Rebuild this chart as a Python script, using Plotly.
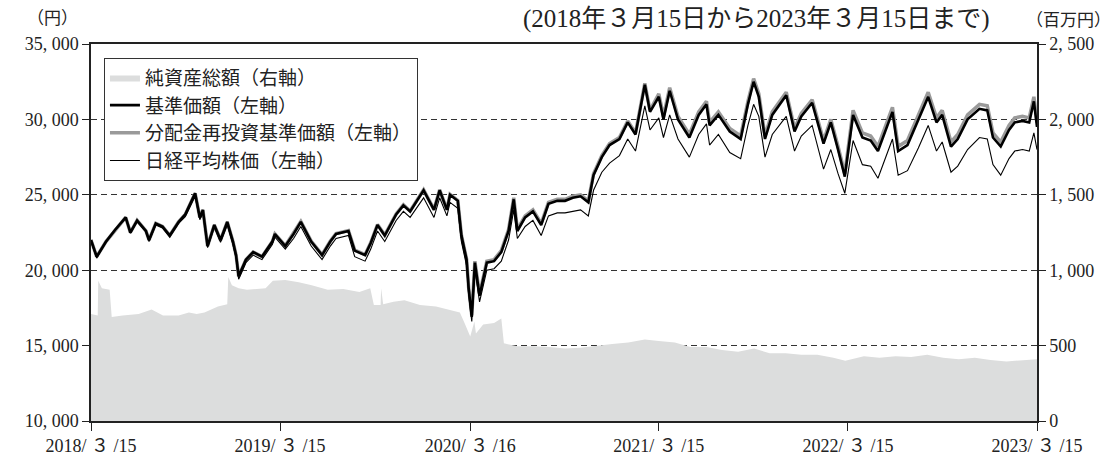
import plotly.graph_objects as go

# ---------------- data ----------------
dates = ["2018-03-15","2018-03-26","2018-04-13","2018-05-01","2018-05-21","2018-05-30","2018-06-12","2018-06-29",
         "2018-07-05","2018-07-18","2018-07-31","2018-08-14","2018-08-31","2018-09-13","2018-10-02","2018-10-11",
         "2018-10-17","2018-10-26","2018-11-08","2018-11-20","2018-12-03","2018-12-14","2018-12-20","2018-12-25",
         "2019-01-08","2019-01-22","2019-02-08","2019-02-28","2019-03-05","2019-03-25","2019-04-10","2019-04-24",
         "2019-05-14","2019-06-04","2019-06-20","2019-07-01","2019-07-25","2019-08-06","2019-08-26","2019-09-06",
         "2019-09-19","2019-10-03","2019-10-25","2019-11-08","2019-11-21","2019-12-17","2020-01-06","2020-01-17",
         "2020-01-31","2020-02-06","2020-02-21","2020-02-28","2020-03-09","2020-03-13","2020-03-19","2020-03-25",
         "2020-04-03","2020-04-17","2020-05-01","2020-05-15","2020-05-29","2020-06-08","2020-06-15","2020-06-30",
         "2020-07-15","2020-07-31","2020-08-14","2020-08-31","2020-09-15","2020-09-30","2020-10-15","2020-10-30",
         "2020-11-09","2020-11-25","2020-12-10","2020-12-29","2021-01-14","2021-01-29","2021-02-16","2021-02-26",
         "2021-03-15","2021-03-24","2021-04-05","2021-04-21","2021-05-13","2021-05-31","2021-06-15","2021-06-21",
         "2021-07-08","2021-07-30","2021-08-20","2021-09-03","2021-09-14","2021-09-24","2021-10-06","2021-10-20",
         "2021-11-16","2021-12-02","2021-12-15","2022-01-05","2022-01-27","2022-02-10","2022-02-24","2022-03-09",
         "2022-03-25","2022-04-12","2022-04-28","2022-05-12","2022-06-09","2022-06-20","2022-07-08","2022-07-29",
         "2022-08-17","2022-09-02","2022-09-13","2022-09-30","2022-10-13","2022-11-01","2022-11-24","2022-12-09",
         "2022-12-20","2023-01-04","2023-01-20","2023-01-31","2023-02-15","2023-02-28","2023-03-09","2023-03-15"]

nav = [22000,20900,21900,22700,23500,22500,23300,22600,
       22000,23100,22900,22300,23200,23700,25100,23500,
       24000,21600,23000,22000,23200,21900,21000,19600,
       20700,21200,20900,21900,22400,21600,22400,23200,
       21900,21000,21900,22400,22600,21300,21000,21800,
       23000,22300,23700,24300,23900,25300,24000,25300,
       24000,25000,24600,22300,20700,18800,16900,20500,
       18300,20500,20600,21200,22600,24700,22600,23500,
       23900,23000,24400,24600,24600,24800,24900,24500,
       26300,27500,28300,28700,29800,29000,32300,30500,
       31500,30000,31900,30000,28800,30300,31000,29600,
       30300,29200,28700,31000,32500,31500,28700,30300,
       31600,29200,30200,31100,28400,29800,28000,26200,
       30300,28800,28600,27900,30500,27900,28300,30000,
       31500,29800,30300,28200,28700,30000,30700,30600,
       28800,28200,29300,29800,29900,29800,31200,29500]

reinvest = [22000,20900,21900,22700,23500,22500,23300,22600,
            22000,23100,22900,22300,23200,23700,25100,23500,
            24000,21600,23000,22000,23200,21900,21000,19600,
            20700,21200,20900,21900,22400,21630,22430,23230,
            21930,21030,21930,22430,22630,21330,21030,21830,
            23030,22330,23730,24330,23930,25330,24030,25330,
            24030,25030,24630,22330,20730,18830,17000,20600,
            18400,20600,20700,21300,22700,24800,22700,23600,
            24000,23100,24500,24700,24700,24900,25000,24600,
            26400,27600,28400,28800,29900,29100,32400,30600,
            31700,30200,32100,30200,29000,30500,31200,29800,
            30500,29400,28900,31200,32700,31700,28900,30500,
            31800,29400,30400,31300,28600,30000,28200,26400,
            30600,29100,28900,28200,30800,28200,28600,30300,
            31800,30100,30600,28500,29000,30300,31000,30900,
            29100,28500,29600,30100,30200,30100,31500,29800]

nikkei = [21900,20800,21850,22650,23450,22450,23200,22550,
          21900,23000,22800,22200,23100,23550,24900,23350,
          23800,21500,22850,21850,23000,21700,20800,19400,
          20500,21000,20700,21700,22200,21400,22100,22900,
          21600,20700,21600,22100,22300,20900,20600,21400,
          22600,21900,23300,23900,23500,24800,23500,24800,
          23600,24500,24100,21900,20300,18400,16600,20100,
          17900,20000,20100,20600,22000,24000,22100,22900,
          23300,22300,23600,23800,23800,23900,24000,23600,
          25300,26500,27100,27600,28700,27900,30900,29300,
          30100,28800,30300,28700,27500,29000,29700,28300,
          29000,27800,27400,29600,31000,30200,27500,29000,
          30200,27900,28900,29600,26700,28000,26400,25100,
          28600,27000,26900,26100,28700,26300,26600,28100,
          29600,27900,28500,26500,26900,28000,28800,28700,
          27000,26300,27400,27900,28000,27900,29100,28000]

asset_dates = ["2018-03-15","2018-03-28","2018-03-29","2018-04-05","2018-04-20","2018-04-24","2018-05-15","2018-06-15",
               "2018-07-10","2018-08-01","2018-08-31","2018-09-20","2018-10-05","2018-10-20","2018-11-15","2018-12-03",
               "2018-12-05","2018-12-12","2018-12-25","2019-01-10","2019-02-15","2019-03-01","2019-03-25","2019-04-20",
               "2019-05-15","2019-06-15","2019-07-15","2019-08-15","2019-09-05","2019-09-12","2019-09-25","2019-09-26",
               "2019-09-30","2019-10-20","2019-11-10","2019-12-10","2020-01-10","2020-02-10","2020-02-25","2020-03-05",
               "2020-03-16","2020-03-24","2020-03-27","2020-04-10","2020-05-01","2020-05-15","2020-05-20","2020-06-15",
               "2020-07-15","2020-08-15","2020-09-15","2020-10-15","2020-11-15","2020-12-15","2021-01-15","2021-02-16",
               "2021-03-15","2021-04-15","2021-05-15","2021-06-15","2021-07-15","2021-08-15","2021-09-15","2021-10-15",
               "2021-11-15","2021-12-15","2022-01-15","2022-02-15","2022-03-10","2022-04-15","2022-05-15","2022-06-15",
               "2022-07-15","2022-08-15","2022-09-15","2022-10-15","2022-11-15","2022-12-15","2023-01-15","2023-02-15",
               "2023-03-15"]

net_assets = [710,700,930,880,870,690,700,710,
              740,700,700,720,710,720,760,775,
              955,900,880,870,880,930,935,920,
              900,870,875,855,880,770,770,880,
              775,790,800,770,760,730,720,650,
              560,660,580,640,650,680,515,495,
              495,490,480,485,500,510,520,540,
              530,520,490,490,470,460,480,450,
              450,440,440,420,400,430,420,430,
              425,440,420,410,420,405,395,405,
              410]

left_ticks = [10000, 15000, 20000, 25000, 30000, 35000]
left_labels = ["10, 000", "15, 000", "20, 000", "25, 000", "30, 000", "35, 000"]
right_ticks = [0, 500, 1000, 1500, 2000, 2500]
right_labels = ["0", "500", "1, 000", "1, 500", "2, 000", "2, 500"]
x_ticks = ["2018-03-15", "2019-03-15", "2020-03-16", "2021-03-15", "2022-03-15", "2023-03-15"]
x_labels = ["2018/ ３ /15", "2019/ ３ /15", "2020/ ３ /16", "2021/ ３ /15", "2022/ ３ /15", "2023/ ３ /15"]

names = ["純資産総額（右軸）", "基準価額（左軸）", "分配金再投資基準価額（左軸）", "日経平均株価（左軸）"]

FONT = "Liberation Serif, Noto Sans CJK JP, serif"

fig = go.Figure()
fig.add_trace(go.Scatter(x=asset_dates, y=net_assets, name=names[0], mode="lines",
                         line=dict(width=0, color="#dcdddd"), fill="tozeroy",
                         fillcolor="#dcdddd", yaxis="y", legendrank=1))
fig.add_trace(go.Scatter(x=dates, y=reinvest, name=names[2], mode="lines",
                         line=dict(width=3.5, color="#9a9a9a"), yaxis="y2", legendrank=3))
fig.add_trace(go.Scatter(x=dates, y=nav, name=names[1], mode="lines",
                         line=dict(width=2.6, color="#000000"), yaxis="y2", legendrank=2))
fig.add_trace(go.Scatter(x=dates, y=nikkei, name=names[3], mode="lines",
                         line=dict(width=1.1, color="#000000"), yaxis="y2", legendrank=4))

fig.update_layout(
    width=1117, height=468,
    margin=dict(l=91, r=80, t=44, b=36),
    paper_bgcolor="white", plot_bgcolor="white",
    font=dict(family=FONT, size=18, color="#222"),
    showlegend=True,
    legend=dict(x=0.0137, y=0.964, xanchor="left", yanchor="top",
                bgcolor="white", bordercolor="#333", borderwidth=1,
                font=dict(size=19, family=FONT, color="#222"),
                itemwidth=30, tracegroupgap=0),
    xaxis=dict(type="date", range=["2018-03-15", "2023-03-15"],
               tickvals=x_ticks, ticktext=x_labels, ticks="outside", ticklen=8,
               tickcolor="#222", showline=True, linecolor="#222", linewidth=1.5, mirror=True,
               showgrid=False, zeroline=False, tickfont=dict(size=18)),
    yaxis=dict(range=[0, 2500], side="right", tickvals=right_ticks, ticktext=right_labels,
               ticks="outside", ticklen=7, tickcolor="#222", showline=True, linecolor="#222",
               linewidth=1.5, showgrid=True, gridcolor="#333", griddash="6px,4px", gridwidth=1,
               zeroline=False, tickfont=dict(size=18)),
    yaxis2=dict(range=[10000, 35000], side="left", overlaying="y", tickvals=left_ticks,
                ticktext=left_labels, ticks="outside", ticklen=7, tickcolor="#222",
                showline=True, linecolor="#222", linewidth=1.5, showgrid=False,
                zeroline=False, tickfont=dict(size=18)),
    annotations=[
        dict(text="（円）", xref="paper", yref="paper", x=-0.041, y=1.067,
             xanchor="center", yanchor="middle", showarrow=False, font=dict(size=17)),
        dict(text="(2018年３月15日から2023年３月15日まで)", xref="paper", yref="paper",
             x=0.952, y=1.067, xanchor="right", yanchor="middle", showarrow=False,
             font=dict(size=25)),
        dict(text="（百万円）", xref="paper", yref="paper", x=1.080, y=1.062,
             xanchor="right", yanchor="middle", showarrow=False, font=dict(size=17)),
    ],
)

fig.write_html("out.html", config={"displayModeBar": False},
               post_script="document.body.style.margin='0px';")
